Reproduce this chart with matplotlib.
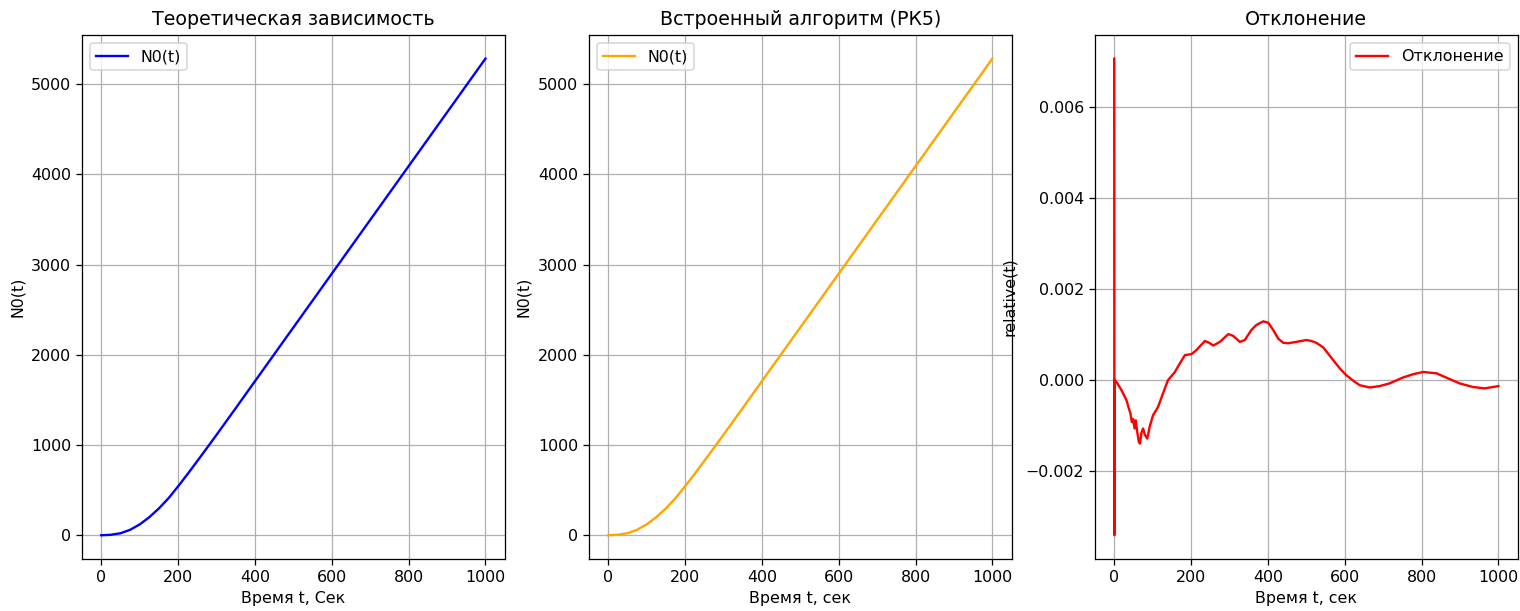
import numpy as np
import matplotlib
matplotlib.use('Agg')
import matplotlib.pyplot as plt

# N0(t)
t_vals = [0, 25, 50, 75, 100, 125, 150, 175, 200, 225, 250, 275, 300,
          350, 400, 500, 600, 700, 800, 900, 1000]
n_theory = [0, 5, 22, 60, 120, 200, 297, 410, 542, 680, 823, 967, 1113,
            1409, 1707, 2303, 2899, 3495, 4091, 4687, 5283]
n_rk5 = [0, 5, 22, 60, 120, 200, 297, 410, 542, 680, 823, 967, 1113,
         1409, 1707, 2303, 2899, 3495, 4091, 4687, 5283]

# relative deviation (x1e-3)
t_dev = [0, 0.5, 1, 6, 19, 32, 38, 42, 46, 49, 53, 56, 60, 64, 67, 71, 75,
         80, 86, 93, 101, 114, 127, 140, 158, 171, 184, 201, 214, 236, 247,
         258, 275, 297, 310, 327, 340, 357, 370, 388, 401, 414, 427, 440,
         453, 474, 500, 513, 526, 544, 570, 587, 604, 622, 639, 665, 691,
         717, 752, 778, 804, 839, 869, 899, 934, 964, 1000]
dev_e3 = [7.05, -3.4, 0.0, -0.04, -0.22, -0.44, -0.62, -0.72, -0.92, -0.85,
          -1.06, -0.88, -1.14, -1.35, -1.39, -1.15, -1.06, -1.2, -1.28, -1.0,
          -0.77, -0.59, -0.29, 0.0, 0.18, 0.37, 0.55, 0.57, 0.66, 0.86, 0.82,
          0.76, 0.84, 1.01, 0.97, 0.84, 0.88, 1.1, 1.21, 1.29, 1.26, 1.10,
          0.91, 0.82, 0.81, 0.84, 0.88, 0.86, 0.82, 0.72, 0.44, 0.26, 0.11,
          -0.01, -0.11, -0.16, -0.13, -0.07, 0.06, 0.13, 0.18, 0.15, 0.04,
          -0.07, -0.15, -0.18, -0.13]

fig = plt.figure(figsize=(1520 / 114, 611 / 114), dpi=114)
w, h, b = 0.278, 0.858, 0.085
ax1 = fig.add_axes([0.054, b, w, h])
ax2 = fig.add_axes([0.3875, b, w, h])
ax3 = fig.add_axes([0.7204, b, w, h])

ax1.plot(t_vals, n_theory, color='blue', label='N0(t)')
ax1.set_title('Теоретическая зависимость')
ax1.set_xlabel('Время t, Сек')
ax1.set_ylabel('N0(t)')
ax1.legend(loc='upper left')
ax1.grid(True)

ax2.plot(t_vals, n_rk5, color='orange', label='N0(t)')
ax2.set_title('Встроенный алгоритм (РК5)')
ax2.set_xlabel('Время t, сек')
ax2.set_ylabel('N0(t)')
ax2.legend(loc='upper left')
ax2.grid(True)

ax3.plot(t_dev, np.array(dev_e3) * 1e-3, color='red', label='Отклонение')
ax3.set_title('Отклонение')
ax3.set_xlabel('Время t, сек')
ax3.set_ylabel('relative(t)')
ax3.yaxis.set_label_coords(-0.185, 0.5)
ax3.legend(loc='upper right')
ax3.grid(True)

fig.savefig('out.png', dpi=114)
